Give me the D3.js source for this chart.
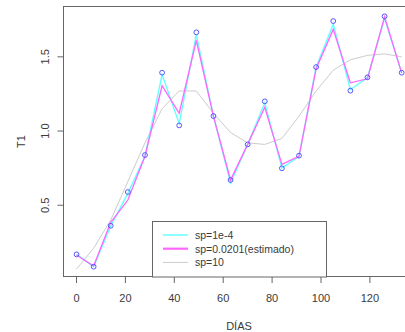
<!DOCTYPE html>
<html>
<head>
<meta charset="utf-8">
<script src="https://cdn.jsdelivr.net/npm/d3@7"></script>
<style>
  body { margin: 0; background: #fff; }
  text { font-family: "Liberation Sans", Arial, sans-serif; fill: #3a3a3a; }
</style>
</head>
<body>
<div id="chart"></div>
<script>
// datos
const dias = [0, 7, 14, 21, 28, 35, 42, 49, 56, 63, 70, 77, 84, 91, 98, 105, 112, 119, 126, 133];
const t1 = [0.169, 0.086, 0.362, 0.589, 0.838, 1.393, 1.038, 1.665, 1.101, 0.670, 0.910, 1.200,
            0.749, 0.834, 1.431, 1.741, 1.272, 1.362, 1.773, 1.393];
const sp1e4 = [0.169, 0.086, 0.36, 0.58, 0.83, 1.38, 1.05, 1.65, 1.10, 0.65, 0.91, 1.19,
               0.75, 0.83, 1.43, 1.72, 1.28, 1.36, 1.76, 1.39];
const spEst = [0.165, 0.09, 0.385, 0.535, 0.83, 1.305, 1.12, 1.61, 1.10, 0.67, 0.91, 1.16,
               0.775, 0.83, 1.42, 1.685, 1.325, 1.352, 1.77, 1.39];
const sp10 = [0.07, 0.21, 0.40, 0.66, 0.92, 1.15, 1.27, 1.27, 1.12, 0.99, 0.92, 0.91,
              0.95, 1.10, 1.27, 1.41, 1.48, 1.51, 1.52, 1.50];
const xTicks = [0, 20, 40, 60, 80, 100, 120];
const yTicks = [0.5, 1.0, 1.5];
const leyenda = ["sp=1e-4", "sp=0.0201(estimado)", "sp=10"];
const colores = ["#66ffff", "#ff66ff", "#cccccc"];

const width = 405, height = 332;
const svg = d3.select('#chart').append('svg')
    .attr('width', width)
    .attr('height', height);

// rango con el 4% de margen, como en R
const pad = (ext) => { const d = (ext[1] - ext[0]) * 0.04; return [ext[0] - d, ext[1] + d]; };
const x = d3.scaleLinear().domain(pad(d3.extent(dias))).range([63.5, 414.7]);
const y = d3.scaleLinear().domain(pad(d3.extent(t1))).range([276.7, 6.3]);

// caja del gráfico
svg.append('rect')
    .attr('x', 63.5).attr('y', 6.5)
    .attr('width', 351).attr('height', 270)
    .attr('fill', 'none')
    .attr('stroke', '#666');

// eje x
const ax = svg.append('g').attr('transform', 'translate(0,277)');
ax.selectAll('line').data(xTicks).join('line')
    .attr('x1', d => x(d)).attr('x2', d => x(d))
    .attr('y1', 0).attr('y2', 6)
    .attr('stroke', '#666');
ax.selectAll('text').data(xTicks).join('text')
    .attr('x', d => x(d)).attr('y', 24.5)
    .attr('text-anchor', 'middle')
    .attr('font-size', 11)
    .text(d => d);

// eje y
const ay = svg.append('g');
ay.selectAll('line').data(yTicks).join('line')
    .attr('x1', 57.5).attr('x2', 63.5)
    .attr('y1', d => y(d)).attr('y2', d => y(d))
    .attr('stroke', '#666');
ay.selectAll('text').data(yTicks).join('text')
    .attr('transform', d => `translate(49,${y(d)}) rotate(-90)`)
    .attr('text-anchor', 'middle')
    .attr('font-size', 11)
    .text(d => d.toFixed(1));

svg.append('text')
    .attr('x', 239).attr('y', 330)
    .attr('text-anchor', 'middle')
    .attr('font-size', 11)
    .text('DÍAS');
svg.append('text')
    .attr('transform', `translate(25,${(6.3 + 276.7) / 2}) rotate(-90)`)
    .attr('text-anchor', 'middle')
    .attr('font-size', 11)
    .text('T1');

// curvas suavizadas
const line = d3.line().x((d, i) => x(dias[i])).y(d => y(d));
const series = [sp10, sp1e4, spEst];
const serieCol = [colores[2], colores[0], colores[1]];
const serieAncho = [1, 1.4, 1.3];
svg.selectAll('.curva').data(series).join('path')
    .attr('class', 'curva')
    .attr('d', d => line(d))
    .attr('fill', 'none')
    .attr('stroke', (d, i) => serieCol[i])
    .attr('stroke-width', (d, i) => serieAncho[i]);

// puntos observados
svg.selectAll('.punto').data(t1).join('circle')
    .attr('class', 'punto')
    .attr('cx', (d, i) => x(dias[i]))
    .attr('cy', d => y(d))
    .attr('r', 2.4)
    .attr('fill', 'none')
    .attr('stroke', '#5555ff')
    .attr('stroke-width', 1);

// leyenda
const lg = svg.append('g');
lg.append('rect')
    .attr('x', 152.5).attr('y', 221.5)
    .attr('width', 174).attr('height', 55.5)
    .attr('fill', '#fff')
    .attr('stroke', '#666');
lg.selectAll('line').data(leyenda).join('line')
    .attr('x1', 163).attr('x2', 188)
    .attr('y1', (d, i) => 235 + i * 13.7).attr('y2', (d, i) => 235 + i * 13.7)
    .attr('stroke', (d, i) => colores[i])
    .attr('stroke-width', (d, i) => [1.5, 2.2, 1][i]);
lg.selectAll('text').data(leyenda).join('text')
    .attr('x', 195).attr('y', (d, i) => 235 + i * 13.7 + 4)
    .attr('font-size', 10.5)
    .text(d => d);
</script>
</body>
</html>
